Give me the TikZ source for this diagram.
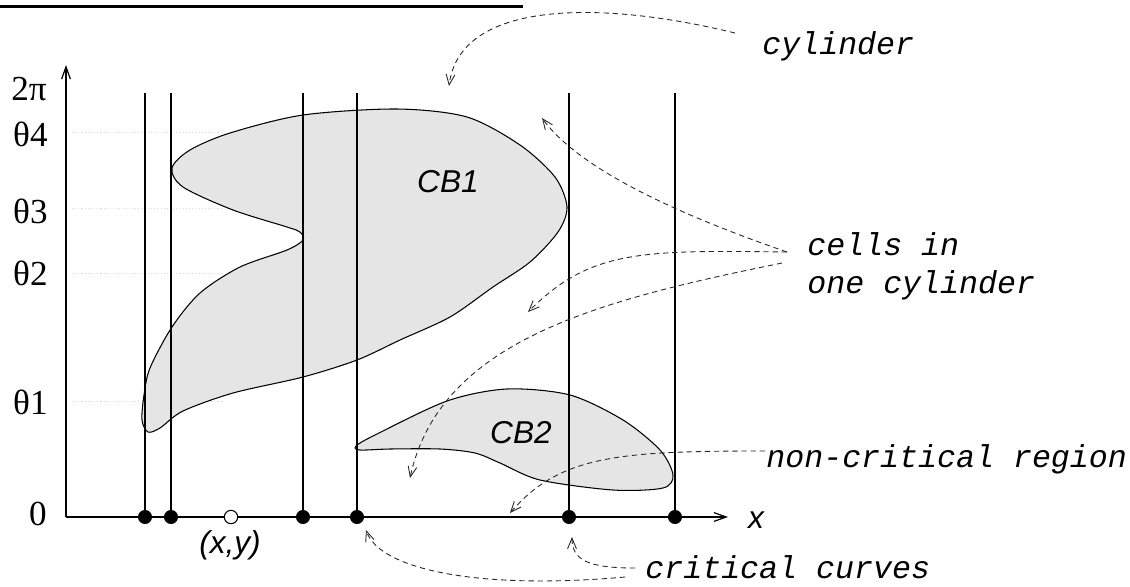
\documentclass[tikz,border=0pt]{standalone}
\usepackage{fontspec}
\setmainfont{Liberation Serif}
\setsansfont{Liberation Sans}
\setmonofont{Liberation Mono}
\usetikzlibrary{arrows.meta,calc}
\tikzset{
  cell/.style={fill=black!10, draw=black, line width=0.6pt},
  curve/.style={black, line width=0.7pt},
  note/.style={-{Straight Barb[length=6pt,width=5pt]}, black!85, line width=0.5pt, dash pattern=on 3pt off 2.2pt},
  axis/.style={-{Straight Barb[length=7pt,width=5pt]}, line width=0.7pt},
  tick/.style={font=\fontsize{20}{24}\selectfont, anchor=east, inner sep=0pt},
  lab/.style={font=\sffamily\itshape\fontsize{18}{21}\selectfont, inner sep=0pt},
  txt/.style={font=\ttfamily\itshape\fontsize{18}{22}\selectfont, inner sep=0pt, anchor=west, align=left},
  guide/.style={black!15, line width=0.5pt, dash pattern=on 0.6pt off 1.2pt},
}

\begin{document}
\begin{tikzpicture}[x=0.02cm, y=-0.02cm]
  \useasboundingbox (0,0) rectangle (1130,586);
  \draw[line width=1.3pt] (0,6.5) -- (523,6.5);

  % theta levels
  \foreach \ty in {132,208,273,401}{
    \draw[guide] (72,\ty) -- (223,\ty);
  }

  % cells CB1 and CB2
  \draw[cell] plot[smooth cycle] coordinates {
    (172,168) (190,150) (230,133) (303,115) (397,109) (467,117) (520,145)
    (555,177) (567,207) (558,232) (530,262) (493,287) (450,317) (400,340)
    (357,360) (303,377) (233,393) (183,411) (160,428) (148,432) (142,420)
    (144,395) (150,368) (172,327) (200,293) (240,267) (287,250) (303,240)
    (300,232) (287,227) (233,210) (183,187)};
  \draw[cell] plot[smooth cycle] coordinates {
    (356,446) (375,435) (447,401) (507,389) (570,395) (623,420) (660,450)
    (673,475) (663,488) (613,490) (540,480) (500,463) (475,453) (440,449)
    (390,449) (360,450)};
  \node[lab] (cb1) at (448,182) {CB1};
  \node[lab] (cb2) at (521,433) {CB2};

  % critical curves
  \foreach \cx [count=\i] in {145,171,303,357,569,675}{
    \coordinate (c\i) at (\cx,517);
    \draw[curve] (c\i) -- (\cx,93);
  }

  % axes
  \coordinate (o) at (66,517);
  \draw[axis] (o) -- (728,517);
  \draw[axis] (o) -- (66,65);
  \node[lab] (xl) at (756,520) {x};
  \foreach \i in {1,...,6}{\fill (c\i) circle (4pt);}
  \coordinate (xy) at (231,517);
  \draw[fill=white, line width=0.6pt] (xy) circle (3.8pt);
  \node[lab] (xyl) at (230,545) {(x,y)};

  \node[tick] (t2pi) at (47,89) {2π};
  \node[tick] (t4) at (48,134) {θ4};
  \node[tick] (t3) at (48,211) {θ3};
  \node[tick] (t2) at (48,273) {θ2};
  \node[tick] (t1) at (48,402) {θ1};
  \node[tick] (t0) at (47,514) {0};

  % annotations
  \node[txt] (cyl) at (762,46) {cylinder};
  \node[txt, anchor=north west] (cells) at (807,232) {cells in\\one cylinder};
  \node[txt] (ncr) at (766,459) {non-critical region};
  \node[txt] (crv) at (645,567) {critical curves};

  \coordinate (cyltip) at (449,86);
  \coordinate (cellA) at (542,118);
  \coordinate (cellB) at (528,312);
  \coordinate (cellC) at (410,478);
  \coordinate (ncrtip) at (510,513);
  \coordinate (crvA) at (572,537);
  \coordinate (crvB) at (366,530);

  \draw[note] ($(cyl.west)+(-27,-13)$) .. controls (600,0) and (460,0) .. (cyltip);
  \draw[note] ($(cells.north west)+(-20,20)$) .. controls (680,215) and (580,170) .. (cellA);
  \draw[note] ($(cells.north west)+(-20,20)$) .. controls (640,250) and (590,250) .. (cellB);
  \draw[note] ($(cells.north west)+(-25,31)$) .. controls (600,300) and (440,340) .. (cellC);
  \draw[note] ($(ncr.west)+(-1,-8)$) .. controls (620,451) and (560,455) .. (ncrtip);
  \draw[note] ($(crv.west)+(-10,1)$) .. controls (588,568) and (572,560) .. (crvA);
  \draw[note] ($(crv.west)+(-20,10)$) .. controls (480,590) and (380,570) .. (crvB);
\end{tikzpicture}
\end{document}
